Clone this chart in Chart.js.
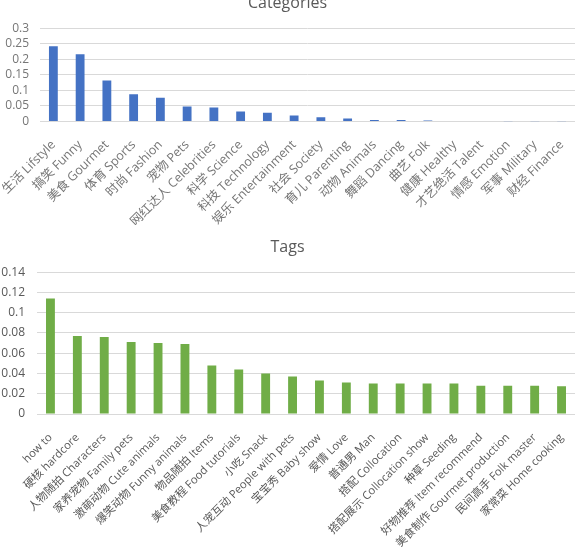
<!DOCTYPE html>
<html>
<head>
<meta charset="utf-8">
<script src="https://cdn.jsdelivr.net/npm/chart.js@4/dist/chart.umd.min.js"></script>
<style>
  html, body { margin: 0; padding: 0; background: #fff; overflow: hidden; }
  body { width: 575px; height: 547px; position: relative; }
  .box { position: absolute; left: 0; width: 575px; }
  #topBox { top: -6px; height: 231px; }
  #bottomBox { top: 228px; height: 319px; }
</style>
</head>
<body>
<div class="box" id="topBox"><canvas id="catChart"></canvas></div>
<div class="box" id="bottomBox"><canvas id="tagChart"></canvas></div>
<script>
// Categories chart data
const categoryLabels = [
  "生活 Lifstyle", "搞笑 Funny", "美食 Gourmet", "体育 Sports", "时尚 Fashion",
  "宠物 Pets", "网红达人 Celebrities", "科学 Science", "科技 Technology", "娱乐 Entertainment",
  "社会 Society", "育儿 Parenting", "动物 Animals", "舞蹈 Dancing", "曲艺 Folk",
  "健康 Healthy", "才艺绝活 Talent", "情感 Emotion", "军事 Military", "财经 Finance"
];
const categoryValues = [
  0.242, 0.216, 0.132, 0.088, 0.076, 0.048, 0.045, 0.032, 0.028, 0.019,
  0.014, 0.010, 0.005, 0.005, 0.003, 0.002, 0.0015, 0.001, 0.0008, 0.0005
];

// Tags chart data
const tagLabels = [
  "how to", "硬核 hardcore", "人物随拍 Characters", "家养宠物 Family pets", "激萌动物 Cute animals",
  "爆笑动物 Funny animals", "物品随拍 Items", "美食教程 Food tutorials", "小吃 Snack", "人宠互动 People with pets",
  "宝宝秀 Baby show", "爱情 Love", "普通男 Man", "搭配 Collocation", "搭配展示 Collocation show",
  "种草 Seeding", "好物推荐 Item recommend", "美食制作 Gourmet production", "民间高手 Folk master", "家常菜 Home cooking"
];
const tagValues = [
  0.114, 0.077, 0.076, 0.071, 0.070, 0.069, 0.048, 0.044, 0.040, 0.037,
  0.033, 0.031, 0.030, 0.030, 0.030, 0.030, 0.028, 0.028, 0.0278, 0.0275
];

const FONT = "'Open Sans', 'Noto Sans CJK SC', sans-serif";
const GRID = "#d9d9d9";

// cfg: fixed axis sizes so the plot area lands where the reference has it
function makeChart(id, title, labels, values, cfg) {
  return new Chart(document.getElementById(id).getContext("2d"), {
    type: "bar",
    data: {
      labels: labels,
      datasets: [{
        data: values,
        backgroundColor: cfg.color,
        categoryPercentage: 1,
        barPercentage: 0.33,
      }],
    },
    options: {
      responsive: true,
      maintainAspectRatio: false,
      animation: false,
      layout: { padding: { left: 0, right: 0, top: cfg.padTop, bottom: 0 } },
      plugins: {
        legend: { display: false },
        tooltip: { enabled: false },
        title: {
          display: true,
          text: title,
          color: "#595959",
          font: { family: FONT, size: 16, weight: "normal" },
          padding: { top: 0, bottom: cfg.titleGap },
        },
      },
      scales: {
        x: {
          grid: { display: false },
          border: { color: GRID },
          ticks: {
            color: cfg.text,
            font: { family: FONT, size: cfg.xFont },
            minRotation: 45,
            maxRotation: 45,
            autoSkip: false,
            padding: cfg.xPad,
          },
          afterFit: (scale) => {
            scale.height = cfg.xHeight;
            scale.paddingLeft = 0;
            scale.paddingRight = 0;
          },
        },
        y: {
          min: 0,
          max: cfg.yMax,
          border: { display: false },
          grid: { color: GRID, drawTicks: false },
          ticks: {
            stepSize: cfg.step,
            autoSkip: false,
            color: cfg.text,
            font: { family: FONT, size: 12 },
            padding: cfg.yPad,
            callback: (v) => String(+v.toFixed(3)),
          },
          afterFit: (scale) => {
            scale.width = cfg.yWidth;
          },
        },
      },
    },
  });
}

makeChart("catChart", "Categories", categoryLabels, categoryValues, {
  color: "#4472c4", yMax: 0.3, step: 0.05, text: "#767676",
  padTop: 0, titleGap: 15, xFont: 12.5, xPad: 8, xHeight: 103.5, yWidth: 40, yPad: 11,
});
makeChart("tagChart", "Tags", tagLabels, tagValues, {
  color: "#70ad47", yMax: 0.14, step: 0.02, text: "#595959",
  padTop: 10, titleGap: 15, xFont: 11.2, xPad: 9, xHeight: 133, yWidth: 37, yPad: 12,
});
</script>
</body>
</html>
